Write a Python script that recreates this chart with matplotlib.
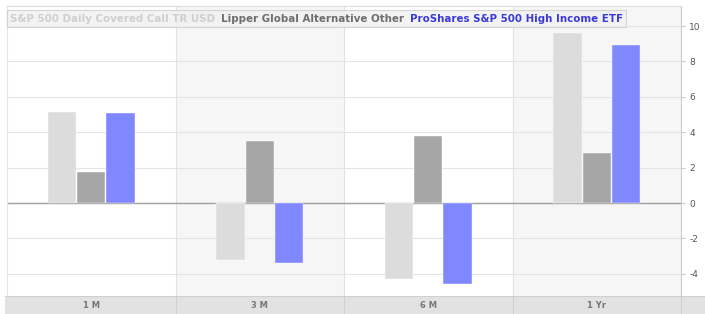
import numpy as np
import matplotlib as mpl
mpl.use('Agg')
import matplotlib.pyplot as plt
from matplotlib.patches import Patch

plt.rcParams['axes.unicode_minus'] = False

periods = ['1 M', '3 M', '6 M', '1 Yr']
series = ['S&P 500 Daily Covered Call TR USD',
          'Lipper Global Alternative Other',
          'ProShares S&P 500 High Income ETF']
covered_call = [5.14, -3.22, -4.3, 9.58]
lipper_alt = [1.75, 3.52, 3.79, 2.84]
proshares = [5.08, -3.37, -4.58, 8.93]

COLORS = ['#dcdcdc', '#a6a6a6', '#8088ff']
TEXT_COLORS = ['#cfcfcf', '#6e6e6e', '#3a3ad8']

W, H = 705, 314
fig = plt.figure(figsize=(W / 100, H / 100), dpi=100)
fig.patch.set_facecolor('white')

left, right, top, bottom = 7, 681, 6, 296
ax = fig.add_axes([left / W, (H - bottom) / H, (right - left) / W, (bottom - top) / H])
strip = fig.add_axes([5 / W, 0, (W - 5) / W, (H - bottom) / H])

x = np.arange(len(periods))
width = 0.168
offsets = [-0.174, 0.0, 0.174]
for vals, off, c, lab in zip([covered_call, lipper_alt, proshares], offsets, COLORS, series):
    ax.bar(x + off, vals, width, color=c, edgecolor='white', linewidth=0.3, label=lab, zorder=3)

ax.set_xlim(-0.5, len(periods) - 0.5)
ax.set_ylim(-5.25, 11.13)

# alternating backgrounds
for i in range(len(periods)):
    if i % 2 == 1:
        ax.axvspan(i - 0.5, i + 0.5, color='#f6f6f6', zorder=0, lw=0)
    if i > 0:
        ax.axvline(i - 0.5, color='#e2e2e2', lw=0.8, zorder=1)

ax.set_yticks(np.arange(-4, 11, 2))
ax.yaxis.grid(True, color='#e4e4e4', lw=0.8, zorder=1)
ax.set_axisbelow(True)
ax.axhline(0, color='#a0a0a0', lw=1.0, zorder=2)
ax.yaxis.tick_right()
ax.tick_params(axis='y', length=3, color='#cccccc', labelsize=6.5, labelcolor='#555555', pad=3)
ax.set_xticks([])
for s, c in [('top', '#dddddd'), ('left', '#e6e6e6'), ('right', '#cccccc')]:
    ax.spines[s].set_color(c)
    ax.spines[s].set_linewidth(0.8)
ax.spines['bottom'].set_visible(False)

handles = [Patch(color='none') for _ in series]
leg = ax.legend(handles, series, ncol=3, loc='upper left', bbox_to_anchor=(0, 0.985),
                borderaxespad=0, handlelength=0, handletextpad=0, columnspacing=0.55,
                frameon=True, fancybox=False, borderpad=0.33,
                prop={'weight': 'bold', 'size': 7.42})
leg.get_frame().set_facecolor('#f0f0f0')
leg.get_frame().set_edgecolor('#cccccc')
leg.get_frame().set_linewidth(0.8)
for t, c in zip(leg.get_texts(), TEXT_COLORS):
    t.set_color(c)

# category strip
strip.set_facecolor('#e2e2e2')
strip.set_xlim(-0.5 - 2 / 168.5, -0.5 + (W - left) / 168.5)
strip.set_ylim(0, 1)
for i, p in enumerate(periods):
    strip.text(i, 0.45, p, ha='center', va='center', fontsize=6,
               fontweight='bold', color='#777777')
    strip.axvline(i + 0.5, color='#d0d0d0', lw=0.8)
strip.set_xticks([])
strip.set_yticks([])
for s in strip.spines.values():
    s.set_visible(False)
strip.axhline(1, color='#cfcfcf', lw=1.5)

fig.savefig('out.png', dpi=100)
